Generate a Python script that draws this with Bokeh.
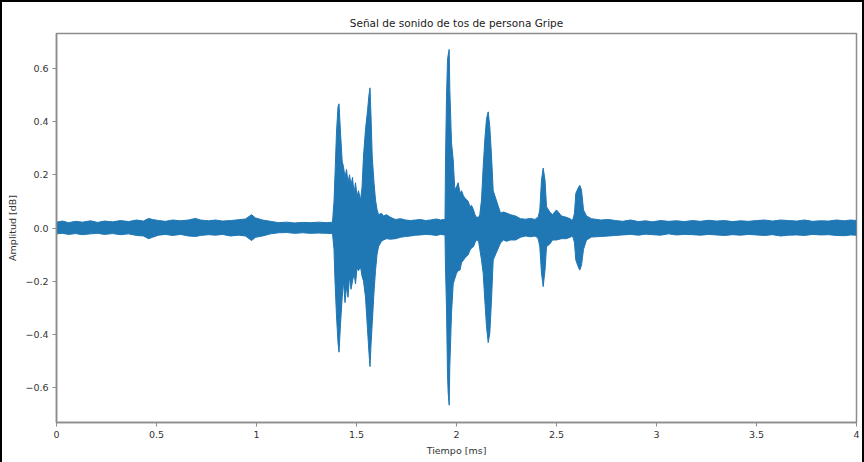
from bokeh.plotting import figure
from bokeh.models import Range1d, FixedTicker, ColumnDataSource
from bokeh.embed import file_html
from bokeh.resources import INLINE

# Envelope of the cough waveform (time in the axis unit, amplitude)
t = [0.0, 0.03, 0.06, 0.095, 0.13, 0.17, 0.205, 0.24, 0.28, 0.32, 0.36, 0.40, 0.435, 0.46,
     0.48, 0.51, 0.545, 0.58, 0.62, 0.66, 0.695, 0.72, 0.76, 0.795, 0.83, 0.87, 0.91, 0.945,
     0.975, 0.995, 1.03, 1.07, 1.11, 1.15, 1.19, 1.23, 1.27, 1.31, 1.35, 1.38,
     1.3875, 1.3925, 1.40, 1.4075, 1.4125, 1.42, 1.4285, 1.435, 1.4425, 1.45, 1.4575, 1.465,
     1.4725, 1.48, 1.4875, 1.495, 1.5025, 1.51, 1.52, 1.5275, 1.535, 1.545, 1.555, 1.5625,
     1.5675, 1.5725, 1.5785, 1.5875, 1.595, 1.6025, 1.61, 1.625, 1.635, 1.65, 1.67, 1.695,
     1.72, 1.745, 1.77, 1.795, 1.82, 1.845, 1.87, 1.90, 1.92, 1.9375,
     1.9425, 1.945, 1.95, 1.955, 1.9585, 1.9635, 1.9665, 1.975, 1.9835, 1.9915, 2.0, 2.0085,
     2.0175, 2.025, 2.035, 2.045, 2.0585, 2.0675, 2.075, 2.085, 2.0925, 2.10, 2.11, 2.1165,
     2.125, 2.1335, 2.1415, 2.15, 2.1585, 2.1665, 2.175, 2.1835, 2.22, 2.235, 2.25, 2.27,
     2.295, 2.32, 2.345, 2.37, 2.3925,
     2.40, 2.4085, 2.4165, 2.425, 2.4335, 2.4425, 2.45, 2.4665, 2.48, 2.50, 2.525, 2.55, 2.5675,
     2.575, 2.5835, 2.59, 2.5965, 2.6085, 2.6165, 2.625, 2.635, 2.65, 2.675,
     2.72, 2.76, 2.795, 2.83, 2.87, 2.91, 2.945, 2.98, 3.02, 3.06, 3.10, 3.14, 3.18, 3.22,
     3.26, 3.30, 3.34, 3.38, 3.42, 3.46, 3.50, 3.54, 3.58, 3.62, 3.66, 3.70, 3.74, 3.78,
     3.82, 3.86, 3.90, 3.94, 3.97, 4.0]
upper = [0.022, 0.026, 0.020, 0.025, 0.022, 0.027, 0.021, 0.026, 0.023, 0.028, 0.024, 0.030,
         0.026, 0.036, 0.032, 0.028, 0.025, 0.030, 0.027, 0.030, 0.036, 0.030, 0.027, 0.030,
         0.026, 0.028, 0.031, 0.034, 0.050, 0.038, 0.030, 0.025, 0.020, 0.022, 0.019, 0.021,
         0.020, 0.022, 0.020, 0.022,
         0.10, 0.20, 0.36, 0.455, 0.466, 0.357, 0.25, 0.23, 0.19, 0.22, 0.17, 0.20,
         0.16, 0.19, 0.13, 0.17, 0.12, 0.14, 0.105, 0.15, 0.27, 0.37, 0.44, 0.50,
         0.526, 0.42, 0.27, 0.17, 0.105, 0.07, 0.05, 0.055, 0.045, 0.05, 0.04, 0.032,
         0.035, 0.030, 0.028, 0.030, 0.032, 0.028, 0.030, 0.034, 0.030, 0.032,
         0.030, 0.25, 0.49, 0.63, 0.65, 0.67, 0.52, 0.32, 0.256, 0.143, 0.155, 0.17,
         0.13, 0.14, 0.12, 0.11, 0.10, 0.08, 0.085, 0.068, 0.05, 0.04, 0.04, 0.05,
         0.105, 0.23, 0.33, 0.41, 0.436, 0.38, 0.27, 0.14, 0.056, 0.06, 0.056, 0.05,
         0.045, 0.035, 0.033, 0.036, 0.032, 0.037, 0.04,
         0.068, 0.18, 0.225, 0.18, 0.08, 0.06, 0.05, 0.068, 0.045, 0.04, 0.035, 0.03, 0.035,
         0.056, 0.13, 0.15, 0.16, 0.143, 0.068, 0.045, 0.035, 0.03, 0.032,
         0.028, 0.025, 0.030, 0.024, 0.027, 0.023, 0.028, 0.025, 0.027, 0.024, 0.028, 0.025,
         0.029, 0.026, 0.028, 0.024, 0.027, 0.025, 0.028, 0.030, 0.026, 0.030, 0.028, 0.026,
         0.030, 0.025, 0.027, 0.026, 0.030, 0.027, 0.030, 0.028, 0.031, 0.029]
lower = [-0.022, -0.020, -0.024, -0.021, -0.025, -0.022, -0.020, -0.024, -0.021, -0.025, -0.022,
         -0.028, -0.030, -0.040, -0.035, -0.027, -0.024, -0.028, -0.024, -0.030, -0.032, -0.028,
         -0.025, -0.027, -0.024, -0.030, -0.027, -0.030, -0.047, -0.035, -0.030, -0.022, -0.018,
         -0.017, -0.020, -0.018, -0.020, -0.019, -0.020, -0.021,
         -0.08, -0.20, -0.33, -0.43, -0.466, -0.36, -0.26, -0.20, -0.28, -0.22, -0.26, -0.18,
         -0.23, -0.20, -0.17, -0.21, -0.15, -0.16, -0.146, -0.18, -0.20, -0.26, -0.38, -0.47,
         -0.52, -0.44, -0.36, -0.24, -0.16, -0.10, -0.07, -0.05, -0.045, -0.04, -0.042, -0.04,
         -0.035, -0.032, -0.030, -0.027, -0.026, -0.024, -0.025, -0.028, -0.024, -0.026,
         -0.025, -0.15, -0.30, -0.55, -0.62, -0.665, -0.52, -0.32, -0.21, -0.19, -0.17, -0.16,
         -0.158, -0.13, -0.12, -0.11, -0.10, -0.083, -0.075, -0.07, -0.055, -0.045, -0.048, -0.08,
         -0.12, -0.17, -0.27, -0.37, -0.43, -0.395, -0.27, -0.12, -0.056, -0.045, -0.05, -0.045,
         -0.045, -0.035, -0.030, -0.033, -0.030, -0.034, -0.04,
         -0.07, -0.17, -0.22, -0.158, -0.07, -0.06, -0.045, -0.045, -0.04, -0.04, -0.035, -0.032,
         -0.035,
         -0.056, -0.12, -0.145, -0.158, -0.14, -0.08, -0.045, -0.034, -0.032, -0.03,
         -0.028, -0.026, -0.024, -0.027, -0.023, -0.025, -0.027, -0.022, -0.026, -0.024, -0.025,
         -0.027, -0.024, -0.026, -0.028, -0.025, -0.027, -0.024, -0.026, -0.028, -0.025, -0.030,
         -0.027, -0.026, -0.028, -0.024, -0.026, -0.025, -0.028, -0.029, -0.026, -0.027, -0.030,
         -0.028]

x_ticks = [0, 0.5, 1, 1.5, 2, 2.5, 3, 3.5, 4]
x_tick_labels = ["0", "0.5", "1", "1.5", "2", "2.5", "3", "3.5", "4"]
y_ticks = [-0.6, -0.4, -0.2, 0.0, 0.2, 0.4, 0.6]
y_tick_labels = ["\u22120.6", "\u22120.4", "\u22120.2", "0.0", "0.2", "0.4", "0.6"]

n = min(len(t), len(upper), len(lower))
src = ColumnDataSource(dict(t=t[:n], up=upper[:n], lo=lower[:n]))

FONT = "DejaVu Sans"
BLUE = "#1f77b4"

p = figure(width=864, height=462, output_backend="svg", toolbar_location=None,
           x_range=Range1d(0, 4), y_range=Range1d(-0.73, 0.73),
           min_border_left=54, min_border_right=10, min_border_top=31, min_border_bottom=42,
           title="Señal de sonido de tos de persona Gripe")

p.varea(x="t", y1="lo", y2="up", source=src, fill_color=BLUE)
p.line(x="t", y="up", source=src, line_color=BLUE, line_width=1)
p.line(x="t", y="lo", source=src, line_color=BLUE, line_width=1)

p.title.align = "center"
p.title.text_font = FONT
p.title.text_font_size = "10.5px"
p.title.text_font_style = "normal"
p.title.text_color = "#222222"

p.xgrid.visible = False
p.ygrid.visible = False
p.outline_line_color = "#8c8c8c"
p.outline_line_width = 1.5

p.xaxis.ticker = FixedTicker(ticks=x_ticks)
p.xaxis.major_label_overrides = {v: s for v, s in zip(x_ticks, x_tick_labels)}
p.yaxis.ticker = FixedTicker(ticks=y_ticks)
p.yaxis.major_label_overrides = {v: s for v, s in zip(y_ticks, y_tick_labels)}

p.xaxis.axis_label = "Tiempo [ms]"
p.yaxis.axis_label = "Amplitud [dB]"
for ax in (p.xaxis[0], p.yaxis[0]):
    ax.axis_line_color = "#8c8c8c"
    ax.axis_line_width = 1.5
    ax.major_tick_line_color = "#8c8c8c"
    ax.major_tick_in = 0
    ax.major_tick_out = 4
    ax.minor_tick_line_color = None
    ax.major_label_text_font = FONT
    ax.major_label_text_font_size = "9.5px"
    ax.major_label_text_color = "#333333"
    ax.axis_label_text_font = FONT
    ax.axis_label_text_font_size = "9.5px"
    ax.axis_label_text_font_style = "normal"
    ax.axis_label_text_color = "#333333"
    ax.major_label_standoff = 4
    ax.axis_label_standoff = 4

p.styles = {"border-left": "2px solid black", "border-top": "2px solid black",
            "border-right": "2px solid black", "box-sizing": "border-box"}

open("out.html", "w").write(file_html(p, INLINE))
